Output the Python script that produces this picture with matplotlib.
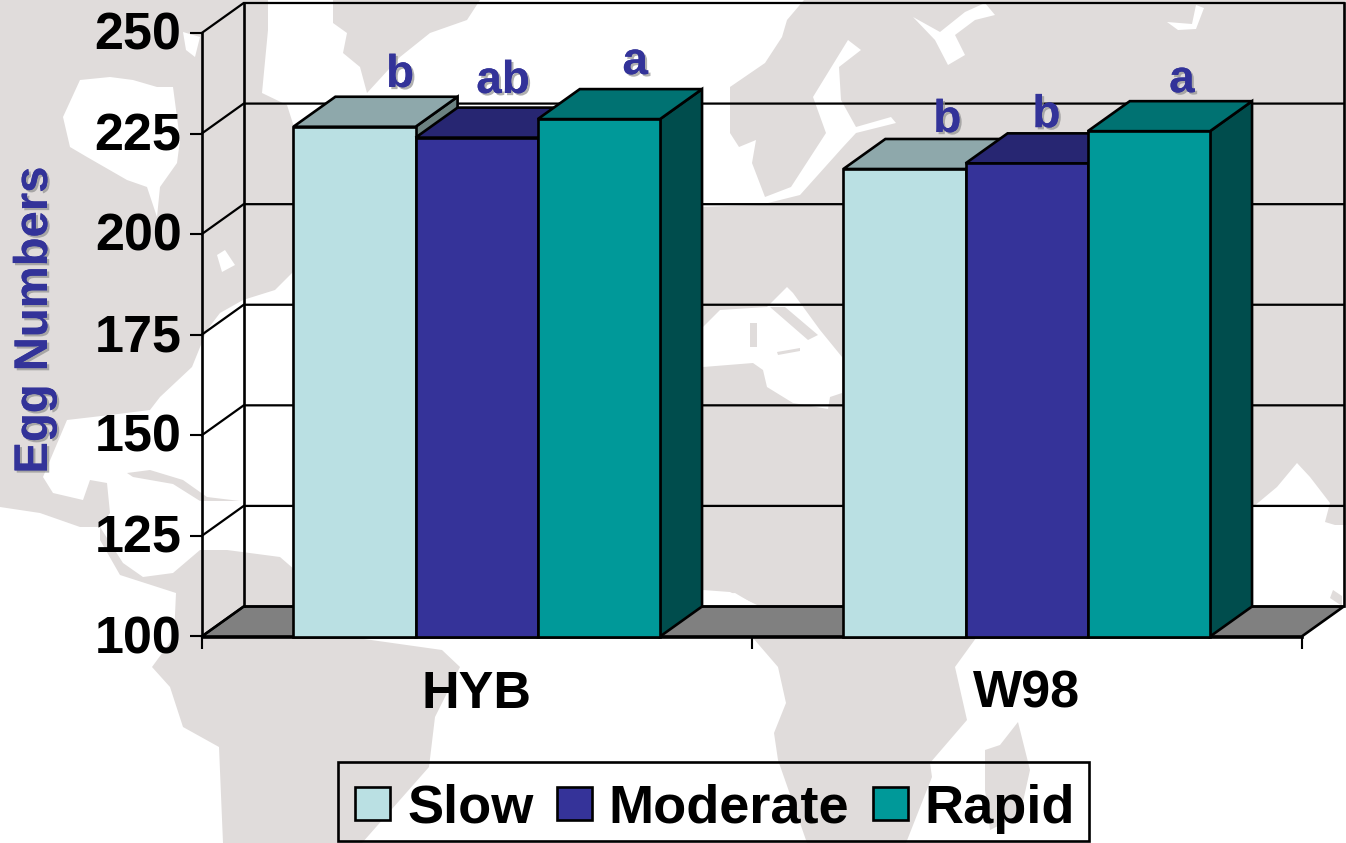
import matplotlib
matplotlib.use("Agg")
import matplotlib.pyplot as plt
import matplotlib.patheffects as pe
from matplotlib.patches import Polygon, Rectangle
from matplotlib.transforms import ScaledTranslation

plt.rcParams['font.family'] = ['Liberation Sans', 'DejaVu Sans']
plt.rcParams['font.weight'] = 'bold'

# ---- data ----
categories = ["HYB", "W98"]
series_names = ["Slow", "Moderate", "Rapid"]
slow = [226.7, 216.2]
moderate = [224.0, 217.6]
rapid = [228.6, 225.6]
sig_slow = ["b", "b"]
sig_moderate = ["ab", "b"]
sig_rapid = ["a", "a"]
sig_slow_y = [236.6, 225.4]
sig_moderate_y = [235.1, 226.6]
sig_rapid_y = [239.8, 235.3]
yticks = [100, 125, 150, 175, 200, 225, 250]

# ---- style ----
front = ['#BAE0E3', '#353399', '#009999']
top = ['#8EA8AB', '#272672', '#007272']
side = ['#6C8281', '#1E1D5C', '#004D4D']
BLUE = '#333399'
LAND = '#E0DCDB'
W, H = 1346, 843
lw = 1.9

fig = plt.figure(figsize=(W / 100, H / 100), dpi=100, facecolor='white')

# ---- faded world map behind the chart (pixel space) ----
bg = fig.add_axes([0, 0, 1, 1], zorder=0)
bg.set_xlim(0, W)
bg.set_ylim(H, 0)
bg.axis('off')
land = [
    [(0, 0), (268, 0), (268, 30), (262, 93), (287, 105), (295, 130), (295, 270), (275, 290), (243, 300),
     (220, 313), (207, 330), (192, 367), (160, 397), (150, 410), (110, 415), (67, 420), (43, 477),
     (53, 493), (83, 500), (90, 480), (107, 483), (110, 513), (100, 527), (80, 527), (40, 513), (0, 507)],
    [(100, 527), (123, 563), (143, 577), (173, 573), (200, 550), (227, 550), (280, 557), (295, 570),
     (357, 638), (442, 650), (460, 667), (435, 717), (429, 767), (362, 843), (223, 843), (219, 747),
     (183, 727), (170, 687), (152, 667), (174, 637), (176, 593), (120, 575), (100, 540)],
    [(333, 0), (480, 0), (467, 20), (430, 33), (400, 57), (367, 93), (360, 67), (343, 53), (347, 33), (333, 23)],
    [(804, 0), (W, 0), (W, 525), (1335, 525), (1325, 522), (1330, 503), (1310, 477), (1297, 463),
     (1277, 487), (1253, 507), (1210, 520), (976, 638), (955, 667), (967, 720), (930, 763), (932, 777),
     (906, 843), (807, 843), (778, 760), (774, 733), (786, 703), (778, 667), (753, 638), (740, 610),
     (757, 605), (730, 592), (703, 590), (698, 580), (698, 205), (730, 133), (730, 87), (765, 63),
     (782, 37), (787, 20)],
    [(985, 750), (1000, 745), (1018, 722), (1030, 770), (1020, 815), (990, 830), (985, 790)],
    [(1333, 590), (1342, 596), (1342, 606), (1330, 598)],
]
holes = [
    [(63, 117), (80, 80), (110, 77), (133, 80), (157, 87), (173, 87), (180, 140), (177, 163), (160, 187),
     (157, 217), (147, 187), (127, 180), (87, 157), (70, 147)],
    [(700, 100), (730, 133), (739, 147), (756, 140), (752, 163), (765, 197), (791, 187), (826, 133),
     (813, 97), (848, 40), (861, 50), (839, 67), (841, 100), (856, 127), (891, 117), (896, 123), (856, 133),
     (843, 147), (800, 195), (760, 205), (700, 207)],
    [(703, 327), (720, 310), (767, 307), (787, 287), (793, 293), (820, 330), (842, 357), (842, 393),
     (830, 397), (828, 409), (793, 403), (767, 387), (763, 370), (753, 363), (703, 367)],
    [(913, 17), (940, 32), (965, 12), (985, 3), (995, 15), (975, 20), (955, 35), (965, 55), (948, 65), (935, 40)],
    [(1167, 22), (1192, 24), (1196, 5), (1204, 8), (1196, 29), (1178, 30)],
    [(217, 255), (225, 250), (235, 265), (222, 272)],
    [(183, 32), (200, 37), (195, 57), (186, 50)],
    [(703, 607), (712, 595), (735, 593), (757, 606)],
]
islands = [
    [(770, 307), (785, 307), (818, 335), (808, 340)],
    [(750, 323), (757, 323), (757, 347), (750, 347)],
    [(777, 352), (800, 348), (800, 351), (778, 355)],
    [(127, 473), (150, 470), (183, 480), (207, 497), (240, 501), (200, 501), (173, 484), (133, 477)],
]
for p in land:
    bg.add_patch(Polygon(p, closed=True, fc=LAND, ec='none'))
for p in holes:
    bg.add_patch(Polygon(p, closed=True, fc='white', ec='none'))
for p in islands:
    bg.add_patch(Polygon(p, closed=True, fc=LAND, ec='none'))
# legend frame
bg.add_patch(Rectangle((338, 762), 751, 79, fc='none', ec='black', lw=lw, zorder=5))

# ---- main axes: front plane of the 3-D box ----
ax = fig.add_axes([201.7 / W, 1 - 636.5 / H, 1100 / W, 603.5 / H], zorder=1)
ax.patch.set_alpha(0)
ax.set_xlim(0, 2)
ax.set_ylim(100, 250)
ax.set_yticks(yticks)
ax.set_xticks([0, 1, 2])
ax.set_xticklabels([])
ax.set_xticks([0.5, 1.5], labels=categories, minor=True)
ax.tick_params(axis='y', length=8.5, width=lw * 0.8, pad=6, labelsize=37.5)
ax.tick_params(axis='x', which='major', length=8.5, width=lw * 0.8)
ax.tick_params(axis='x', which='minor', length=0, pad=24, labelsize=37.5)
up = ScaledTranslation(0, 2.5 / 72 * 0.72, fig.dpi_scale_trans)
for lab in ax.get_yticklabels():
    lab.set_transform(lab.get_transform() + up)
for s in ('top', 'right'):
    ax.spines[s].set_visible(False)
for s in ('left', 'bottom'):
    ax.spines[s].set_linewidth(lw)
    ax.spines[s].set_zorder(1)

# depth of the box in data units
DX = 42 / 550
DY = 30 / 4.023

# floor
ax.add_patch(Polygon([(0, 100), (DX, 100 + DY), (2 + DX, 100 + DY), (2, 100)], closed=True,
                     fc='#808080', ec='black', lw=lw, clip_on=False, zorder=1))
# back wall + left wall lines
for t in yticks:
    ax.plot([0, DX, 2 + DX], [t, t + DY, t + DY], color='black', lw=lw * 0.85, clip_on=False,
            zorder=1, solid_joinstyle='miter')
ax.plot([DX, DX], [100 + DY, 250 + DY], color='black', lw=lw, clip_on=False, zorder=1)
ax.plot([2 + DX, 2 + DX], [100 + DY, 250 + DY], color='black', lw=lw, clip_on=False, zorder=1)

# bars
bw = 1 / 4.5
values = [slow, moderate, rapid]
sig = [sig_slow, sig_moderate, sig_rapid]
sig_y = [sig_slow_y, sig_moderate_y, sig_rapid_y]
sig_shift = [[0.083, 0.078], [0.048, 0.036], [0.066, 0.06]]
shadow = [pe.withSimplePatchShadow(offset=(1.6, -1.6), shadow_rgbFace='#8f8f8f', alpha=0.7), pe.Normal()]
handles = []
z = 2
for c in range(2):
    for i in range(3):
        v = values[i][c]
        x0 = c + 0.5 + (i - 1.5) * bw
        x1 = x0 + bw
        ax.add_patch(Polygon([(x1, 100), (x1 + DX, 100 + DY), (x1 + DX, v + DY), (x1, v)], closed=True,
                             fc=side[i], ec='black', lw=lw, clip_on=False, zorder=z, joinstyle='miter'))
        ax.add_patch(Polygon([(x0, v), (x0 + DX, v + DY), (x1 + DX, v + DY), (x1, v)], closed=True,
                             fc=top[i], ec='black', lw=lw, clip_on=False, zorder=z, joinstyle='miter'))
        b = ax.bar(x0, v - 100, bw, bottom=100, align='edge', color=front[i], edgecolor='black', lw=lw,
                   zorder=z + 0.5, clip_on=False, label=series_names[i])
        if c == 0:
            handles.append(b)
        ax.text(x0 + bw / 2 + sig_shift[i][c], sig_y[i][c], sig[i][c], color=BLUE, fontsize=33, fontweight='bold',
                ha='center', va='baseline', zorder=20, path_effects=shadow)
        z += 1

# legend
leg = ax.legend(handles=handles, labels=series_names, ncol=3, loc='center',
                bbox_to_anchor=(715 / W, 1 - 808.5 / H), bbox_transform=fig.transFigure,
                fontsize=39, frameon=False,
                handlelength=0.65, handleheight=0.56, handletextpad=0.31, columnspacing=0.43,
                borderpad=0.3, borderaxespad=0)
leg.set_zorder(30)

# y label
fig.text(35 / W, 1 - 320 / H, "Egg Numbers", rotation=90, color=BLUE, fontsize=34, fontweight='bold',
         ha='center', va='center', path_effects=shadow)

fig.savefig("out.png", dpi=100)
